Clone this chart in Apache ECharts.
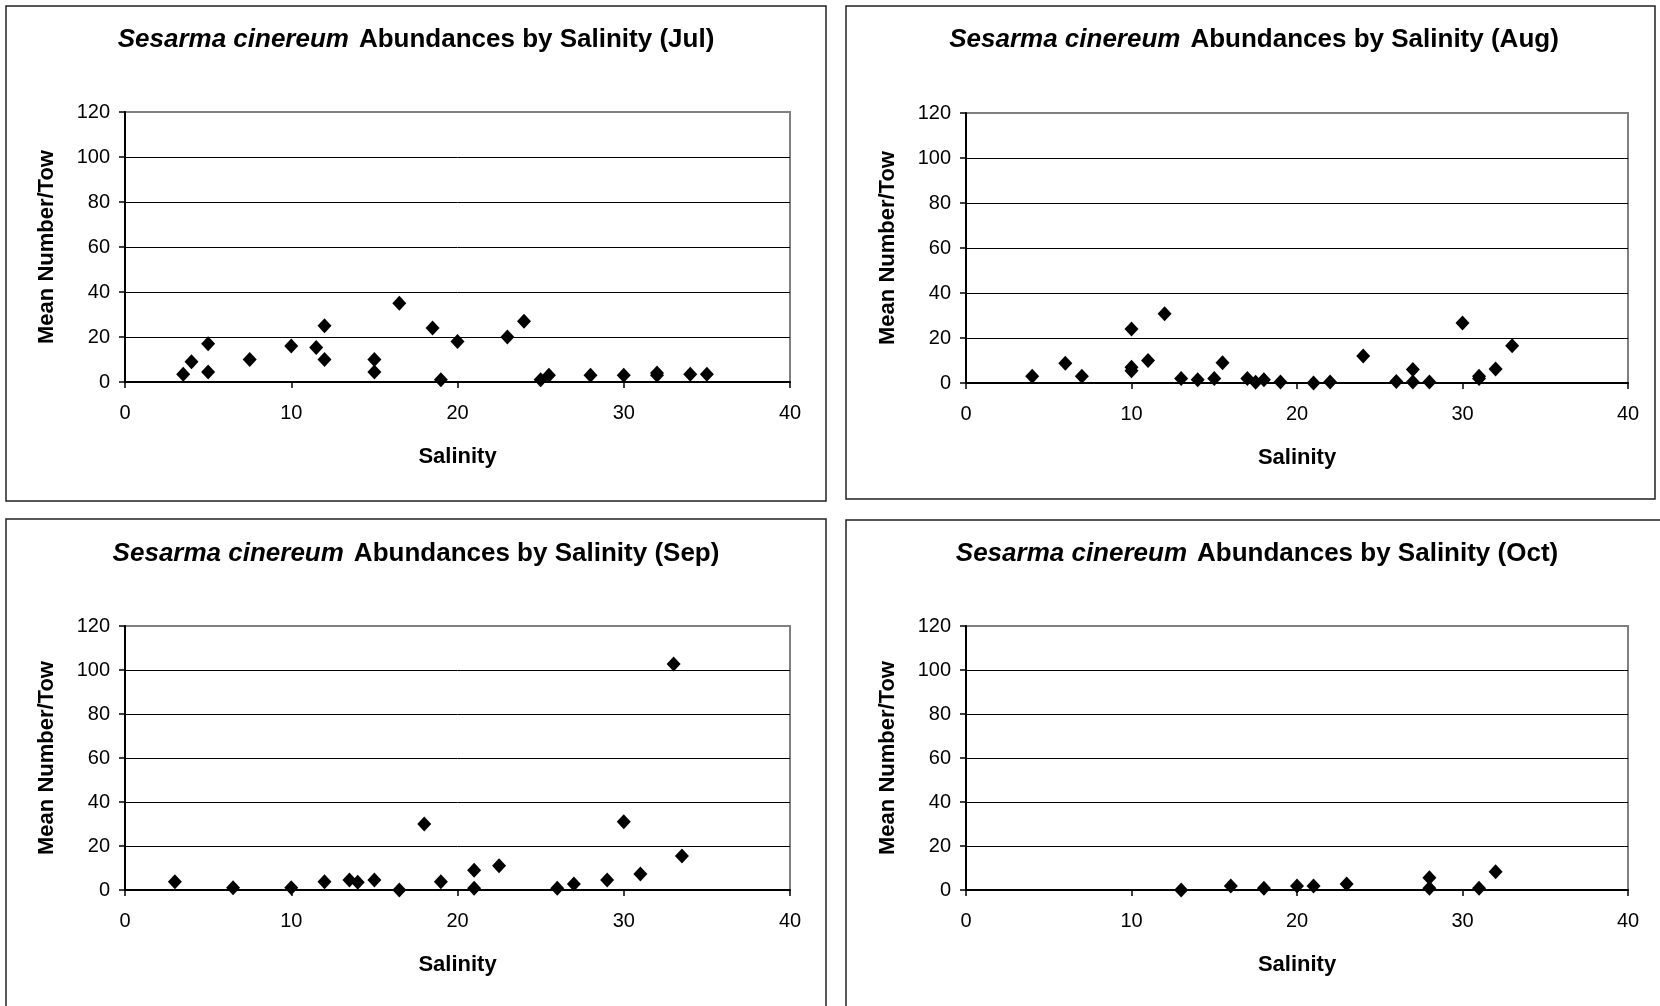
<!DOCTYPE html>
<html>
<head>
<meta charset="utf-8">
<script src="https://cdn.jsdelivr.net/npm/echarts@6/dist/echarts.min.js"></script>
<style>
html,body{margin:0;padding:0;background:#fff;}
#chart{width:1660px;height:1006px;}
</style>
</head>
<body>
<div id="chart"></div>
<script>
// ---- data (salinity, mean number per tow) ----
const months = ['Jul', 'Aug', 'Sep', 'Oct'];
const xTicks = [0, 10, 20, 30, 40];
const yTicks = [0, 20, 40, 60, 80, 100, 120];

const julSal   = [3.5, 4, 5, 5, 7.5, 10, 11.5, 12, 12, 15, 15, 16.5, 18.5, 19, 20, 23, 24, 25, 25.5, 28, 30, 32, 32, 34, 35];
const julAbund = [3.5, 9, 17, 4.5, 10, 16, 15.3, 25, 10, 10, 4.5, 35, 24, 1, 18, 20, 27, 1, 3, 3, 3, 4, 3, 3.5, 3.5];

const augSal   = [4, 6, 7, 10, 10, 10, 11, 12, 13, 14, 15, 15.5, 17, 17.5, 18, 19, 21, 22, 24, 26, 27, 27, 28, 30, 31, 31, 32, 33];
const augAbund = [3, 8.8, 3, 24, 7, 5.5, 10, 30.8, 2, 1.5, 2, 9, 2, 0.3, 1.5, 0.5, 0, 0.5, 12, 0.7, 6, 0.5, 0.5, 26.7, 3, 2, 6.2, 16.6];

const sepSal   = [3, 6.5, 10, 12, 13.5, 14, 15, 16.5, 18, 19, 21, 21, 22.5, 26, 27, 29, 30, 31, 33, 33.5];
const sepAbund = [3.8, 1, 1, 3.8, 4.5, 3.5, 4.5, 0, 30, 3.8, 9, 0.8, 11, 0.8, 2.7, 4.5, 31, 7.3, 102.7, 15.5];

const octSal   = [13, 16, 18, 20, 21, 23, 28, 28, 31, 32];
const octAbund = [0, 1.8, 0.8, 1.8, 1.8, 2.7, 5.6, 0.8, 0.8, 8.3];

const salSets = [julSal, augSal, sepSal, octSal];
const abundSets = [julAbund, augAbund, sepAbund, octAbund];

// ---- layout ----
const FONT = "'Liberation Sans', Arial, Helvetica, sans-serif";
const grids = [
  {left: 125, top: 112, width: 665, height: 270},
  {left: 966, top: 113, width: 662, height: 270},
  {left: 125, top: 626, width: 665, height: 264},
  {left: 966, top: 626, width: 662, height: 264}
];
const frames = [
  {x: 6, y: 6, w: 820, h: 495},
  {x: 846, y: 6, w: 809, h: 493},
  {x: 6, y: 519, w: 820, h: 520},
  {x: 846, y: 520, w: 830, h: 520}
];
const titleCenters = [[416, 27], [1254, 27], [416, 541], [1257, 541]];

const chart = echarts.init(document.getElementById('chart'), null, {renderer: 'canvas'});

const option = {
  backgroundColor: '#fff',
  animation: false,
  title: months.map((m, i) => ({
    text: '{i|Sesarma cinereum}  {b|Abundances by Salinity (' + m + ')}',
    left: titleCenters[i][0],
    top: titleCenters[i][1],
    textAlign: 'center',
    padding: 0,
    textStyle: {
      rich: {
        i: {fontFamily: FONT, fontSize: 26, fontWeight: 'bold', fontStyle: 'italic', color: '#000'},
        b: {fontFamily: FONT, fontSize: 26, fontWeight: 'bold', color: '#000'}
      }
    }
  })),
  graphic: frames.map(f => ({
    type: 'rect',
    silent: true,
    shape: {x: f.x, y: f.y, width: f.w, height: f.h},
    style: {fill: 'none', stroke: '#222', lineWidth: 1.5}
  })),
  grid: grids.map(g => Object.assign({
    show: true, borderColor: '#808080', borderWidth: 2, backgroundColor: 'transparent', containLabel: false
  }, g)),
  xAxis: grids.map((g, i) => ({
    type: 'value', gridIndex: i,
    min: xTicks[0], max: xTicks[xTicks.length - 1], interval: xTicks[1] - xTicks[0],
    name: 'Salinity', nameLocation: 'middle', nameGap: 64,
    nameTextStyle: {fontFamily: FONT, fontSize: 22, fontWeight: 'bold', color: '#000'},
    axisLine: {show: true, onZero: false, lineStyle: {color: '#000', width: 2}},
    axisTick: {show: true, inside: false, length: 6, lineStyle: {color: '#000', width: 1.5}},
    axisLabel: {fontFamily: FONT, fontSize: 20, color: '#000', margin: 21},
    splitLine: {show: false}
  })),
  yAxis: grids.map((g, i) => ({
    type: 'value', gridIndex: i,
    min: yTicks[0], max: yTicks[yTicks.length - 1], interval: yTicks[1] - yTicks[0],
    name: 'Mean Number/Tow', nameLocation: 'middle', nameGap: 67, nameRotate: 90,
    nameTextStyle: {fontFamily: FONT, fontSize: 22, fontWeight: 'bold', color: '#000'},
    axisLine: {show: true, onZero: false, lineStyle: {color: '#000', width: 2}},
    axisTick: {show: true, inside: false, length: 6, lineStyle: {color: '#000', width: 1.5}},
    axisLabel: {fontFamily: FONT, fontSize: 20, color: '#000', margin: 15},
    splitLine: {show: true, showMinLine: false, showMaxLine: false, lineStyle: {color: '#000', width: 1}}
  })),
  series: salSets.map((sal, i) => ({
    type: 'scatter',
    xAxisIndex: i, yAxisIndex: i,
    symbol: 'diamond',
    symbolSize: [14, 15],
    itemStyle: {color: '#000', opacity: 1},
    data: sal.map((s, k) => [s, abundSets[i][k]]),
    z: 5
  }))
};
chart.setOption(option);
</script>
</body>
</html>
